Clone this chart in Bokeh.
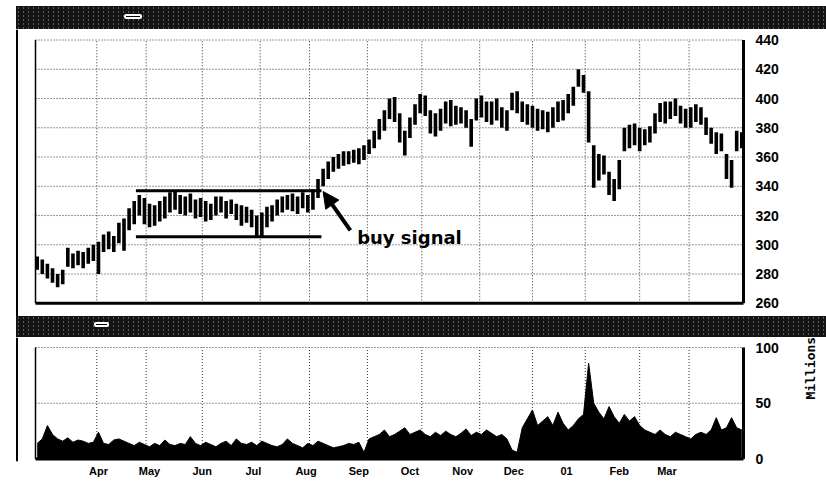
import math
import pandas as pd
from bokeh.plotting import figure
from bokeh.layouts import column
from bokeh.models import (Range1d, LinearAxis, FixedTicker, CustomJSTickFormatter,
                          Arrow, NormalHead, Div)
from bokeh.core.properties import value
from bokeh.embed import file_html
from bokeh.resources import INLINE

# ---------------- data ----------------
BAR_START = "2000-02-25"          # first bar, one bar every 3 calendar days
BAR_FREQ = "3D"
price_low = [283, 280, 277, 274, 271, 273, 285, 284, 286, 284, 287, 289, 280, 295, 297, 295, 301, 296, 310, 314,
             320, 314, 312, 313, 316, 318, 322, 324, 321, 320, 322, 318, 319, 316, 317, 320, 322, 318, 321, 317,
             313, 315, 312, 306, 305, 312, 316, 320, 322, 324, 323, 321, 325, 322, 324, 332, 340, 345, 350, 352,
             354, 355, 356, 355, 358, 362, 366, 372, 378, 386, 384, 370, 361, 373, 382, 390, 388, 376, 374, 378,
             383, 381, 382, 383, 380, 367, 385, 387, 384, 382, 385, 380, 378, 392, 390, 384, 382, 380, 378, 379,
             377, 380, 384, 385, 390, 395, 408, 404, 370, 339, 344, 348, 334, 330, 338, 364, 366, 368, 364, 368,
             370, 376, 384, 383, 386, 388, 383, 380, 380, 384, 382, 375, 369, 362, 364, 345, 339, 364, 366]
price_high = [292, 290, 287, 284, 280, 283, 298, 294, 296, 295, 298, 300, 302, 307, 309, 306, 315, 318, 325, 330,
              334, 332, 328, 327, 330, 333, 336, 337, 334, 333, 335, 331, 332, 330, 328, 333, 333, 330, 331, 328,
              327, 326, 324, 320, 322, 326, 327, 331, 333, 334, 335, 333, 336, 334, 338, 345, 352, 357, 360, 362,
              364, 364, 365, 366, 368, 372, 378, 386, 392, 400, 401, 390, 378, 387, 396, 403, 402, 392, 390, 393,
              398, 399, 395, 394, 392, 386, 400, 402, 398, 398, 400, 394, 392, 404, 405, 398, 396, 395, 393, 392,
              391, 394, 398, 399, 403, 408, 420, 416, 405, 368, 362, 361, 350, 345, 358, 380, 382, 383, 380, 379,
              381, 390, 397, 398, 398, 400, 395, 393, 394, 396, 394, 387, 380, 377, 376, 362, 358, 378, 377]
volume_mln = [14, 18, 30, 22, 18, 16, 19, 15, 17, 16, 14, 15, 24, 14, 13, 17, 18, 16, 14, 12,
              15, 13, 11, 14, 12, 17, 13, 12, 14, 13, 20, 14, 12, 15, 13, 11, 14, 16, 12, 18,
              14, 13, 15, 12, 16, 14, 12, 11, 13, 18, 14, 12, 10, 14, 12, 16, 14, 12, 10, 11,
              12, 14, 13, 15, 6, 18, 20, 22, 26, 20, 22, 25, 28, 22, 24, 26, 22, 20, 24, 21,
              25, 22, 20, 23, 27, 21, 24, 22, 26, 23, 20, 22, 18, 8, 6, 28, 36, 44, 30, 34,
              38, 30, 42, 32, 26, 30, 36, 40, 86, 50, 42, 36, 47, 38, 32, 40, 34, 38, 30, 26,
              24, 22, 26, 22, 20, 24, 22, 20, 18, 22, 24, 22, 26, 37, 26, 28, 37, 28, 26]

month_ticks = ["2000-04-01", "2000-05-01", "2000-06-01", "2000-07-01", "2000-08-01", "2000-09-01",
               "2000-10-01", "2000-11-01", "2000-12-01", "2001-01-01", "2001-02-01", "2001-03-01"]
month_labels = ["Apr", "May", "Jun", "Jul", "Aug", "Sep", "Oct", "Nov", "Dec", "01", "Feb", "Mar"]
grid_dates = ["2000-03-31", "2000-04-29", "2000-06-01", "2000-07-05", "2000-08-03", "2000-09-06",
              "2000-10-08", "2000-11-11", "2000-12-12", "2001-01-12", "2001-02-13", "2001-03-14"]
price_ticks = [260, 280, 300, 320, 340, 360, 380, 400, 420, 440]
volume_ticks = [0, 50, 100]
volume_unit = "Millions"

AXIS_START = "2000-02-24"
AXIS_END = "2001-04-15"
channel_dates = ["2000-04-23", "2000-08-10"]
resistance = 337.0
support = 305.5
signal_text_at = ("2000-08-31", 305.0)
arrow_from = ("2000-08-27", 309.8)
arrow_to = ("2000-08-11", 336.4)


def ms(d):
    return pd.Timestamp(d).value / 1e6


dates_ms = [ms(d) for d in pd.date_range(BAR_START, periods=len(price_low), freq=BAR_FREQ)]
month_ms = [ms(d) for d in month_ticks]
grid_ms = [ms(d) for d in grid_dates]
x0_ms, x1_ms = ms(AXIS_START), ms(AXIS_END)

# ---------------- layout (page pixels, page origin at 0,0) ----------------
FIG_W = 826
FRAME_L, FRAME_R = 12, 745           # page x of panel frames
AX_L, AX_R = 35, 743                 # page x of plot area
ms_per_px = (x1_ms - x0_ms) / (AX_R - AX_L)
xr_start = x0_ms - (AX_L - FRAME_L) * ms_per_px
xr_end = x1_ms + (FRAME_R - AX_R) * ms_per_px
LEFT_LINE_X = xr_start + (16.5 - FRAME_L) * ms_per_px

B1_TOP = 6
P_TOP, P_BOT = 29, 316
V_TOP, V_BOT = 337, 461
V_AXIS_H = 19
kp = (302.8 - 39.5) / 180.0           # 440 at y=39.5, 260 at y=302.8
p_y0 = 260 - (P_BOT - 302.8) / kp
p_y1 = 440 + (39.5 - P_TOP) / kp
kv = (458.5 - 347) / 100.0            # 100 at y=347, 0 at y=458.5
v_y0 = 0 - (V_BOT - 458.5) / kv
v_y1 = 100 + (347 - V_TOP) / kv

BAND_BG = ("background-color:#141414;"
           "background-image:radial-gradient(rgba(255,255,255,0.30) 0.7px, transparent 1px);"
           "background-size:5px 4px;")


def band(top, bottom, box, margin_top):
    h = bottom - top
    w = FIG_W - 16
    bx, by, bw, bh = box[0] - 16, box[2] - top, box[1] - box[0], box[3] - box[2]
    html = (f'<div style="position:relative;width:{w}px;height:{h}px;{BAND_BG}">'
            f'<div style="position:absolute;left:{bx}px;top:{by}px;width:{bw - 4}px;height:{bh - 4}px;'
            f'border:2px solid #fff;border-radius:2px;background:#000;"></div></div>')
    return Div(text=html, width=w, height=h, margin=(margin_top, 0, 0, 16))


band1 = band(B1_TOP, P_TOP, (124, 146, 14, 23), B1_TOP)
band2 = band(P_BOT, V_TOP, (94, 113, 322, 331), 0)

label_font = dict(major_label_text_font="Liberation Sans", major_label_text_font_style="bold",
                  major_label_text_font_size="14px", major_label_text_color="black",
                  major_tick_out=0, major_tick_in=0, minor_tick_out=0, minor_tick_in=0)


def panel(top, bottom, y0, y1, bottom_border):
    f = figure(frame_width=FRAME_R - FRAME_L, frame_height=bottom - top,
               min_border_left=FRAME_L, min_border_right=FIG_W - FRAME_R,
               min_border_top=0, min_border_bottom=bottom_border,
               x_range=Range1d(xr_start, xr_end), y_range=Range1d(y0, y1),
               x_axis_location=None, y_axis_location=None, toolbar_location=None, output_backend="svg")
    f.grid.visible = False
    f.outline_line_color = None
    f.segment(x0=[LEFT_LINE_X], x1=[LEFT_LINE_X], y0=[y0], y1=[y1], line_color="black", line_width=2)
    return f


# ---------------- price panel ----------------
p = panel(P_TOP, P_BOT, p_y0, p_y1, 0)
p.segment(x0=grid_ms, x1=grid_ms, y0=[260] * len(grid_ms), y1=[440] * len(grid_ms),
          line_color="#333333", line_width=1, line_dash="1 2")
p.segment(x0=[x0_ms] * 9, x1=[x1_ms] * 9, y0=price_ticks[1:], y1=price_ticks[1:],
          line_color="#333333", line_width=1, line_dash="1 2")
p.segment(x0=dates_ms, x1=dates_ms, y0=price_low, y1=price_high, line_color="black", line_width=3.6)
p.segment(x0=[ms(channel_dates[0])] * 2, x1=[ms(channel_dates[1])] * 2, y0=[resistance, support],
          y1=[resistance, support], line_color="black", line_width=3)
p.text(x=[ms(signal_text_at[0])], y=[signal_text_at[1]], text=["buy signal"],
       text_font=value("DejaVu Sans"), text_font_style="bold", text_font_size="18px",
       text_color="black", text_align="left", text_baseline="alphabetic")
p.add_layout(Arrow(end=NormalHead(size=16, fill_color="black", line_color="black"),
                   x_start=ms(arrow_from[0]), y_start=arrow_from[1],
                   x_end=ms(arrow_to[0]), y_end=arrow_to[1], line_width=4, line_color="black"))
# plot frame
p.segment(x0=[x0_ms], x1=[x0_ms], y0=[260], y1=[440], line_color="black", line_width=1.5)
p.segment(x0=[x0_ms], x1=[x1_ms], y0=[260], y1=[260], line_color="black", line_width=3)
p.segment(x0=[x1_ms], x1=[x1_ms], y0=[260], y1=[440], line_color="black", line_width=3)
pax = LinearAxis(ticker=FixedTicker(ticks=price_ticks), axis_line_color=None,
                 major_tick_line_color=None, minor_tick_line_color=None, major_label_standoff=10,
                 **label_font)
p.add_layout(pax, "right")

# ---------------- volume panel ----------------
v = panel(V_TOP, V_BOT, v_y0, v_y1, V_AXIS_H)
v.segment(x0=grid_ms, x1=grid_ms, y0=[0] * len(grid_ms), y1=[100] * len(grid_ms),
          line_color="#333333", line_width=1, line_dash="1 2")
v.segment(x0=[x0_ms] * 2, x1=[x1_ms] * 2, y0=[50, 100], y1=[50, 100],
          line_color="#333333", line_width=1, line_dash="1 2")
v.varea(x=dates_ms, y1=[0] * len(volume_mln), y2=volume_mln, fill_color="black")
v.line(x=dates_ms, y=volume_mln, line_color="black", line_width=1)
v.segment(x0=[x0_ms], x1=[x0_ms], y0=[0], y1=[100], line_color="black", line_width=1.5)
v.segment(x0=[x0_ms], x1=[x1_ms], y0=[0], y1=[0], line_color="black", line_width=3)
v.segment(x0=[x1_ms], x1=[x1_ms], y0=[0], y1=[100], line_color="black", line_width=3)
vax = LinearAxis(ticker=FixedTicker(ticks=volume_ticks), axis_line_color=None,
                 major_tick_line_color=None, minor_tick_line_color=None, major_label_standoff=10,
                 **label_font)
v.add_layout(vax, "right")
unit_ax = LinearAxis(ticker=FixedTicker(ticks=[]), axis_line_color=None,
                     major_label_standoff=0, axis_label=volume_unit, axis_label_standoff=29,
                     axis_label_text_font="DejaVu Sans Mono", axis_label_text_font_style="bold",
                     axis_label_text_font_size="13px", axis_label_text_color="black",
                     axis_label_text_align="center",
                     major_tick_out=0, major_tick_in=0, minor_tick_out=0, minor_tick_in=0)
if "axis_label_orientation" in LinearAxis.properties():
    unit_ax.axis_label_orientation = math.pi / 2
v.add_layout(unit_ax, "right")
fmt = CustomJSTickFormatter(args=dict(mticks=month_ms, mlabels=month_labels), code="""
let best = 0;
for (let j = 0; j < mticks.length; j++) {
  if (Math.abs(mticks[j] - tick) < Math.abs(mticks[best] - tick)) best = j;
}
return mlabels[best];
""")
xax = LinearAxis(ticker=FixedTicker(ticks=month_ms), formatter=fmt, axis_line_color=None,
                 major_tick_line_color=None, minor_tick_line_color=None, major_label_standoff=3,
                 major_label_text_font="Liberation Sans", major_label_text_font_style="bold",
                 major_label_text_font_size="11px", major_label_text_color="black",
                 major_tick_out=0, major_tick_in=0, minor_tick_out=0, minor_tick_in=0)
v.add_layout(xax, "below")

layout = column(band1, p, band2, v, spacing=0)
open("out.html", "w").write(file_html(layout, INLINE))
